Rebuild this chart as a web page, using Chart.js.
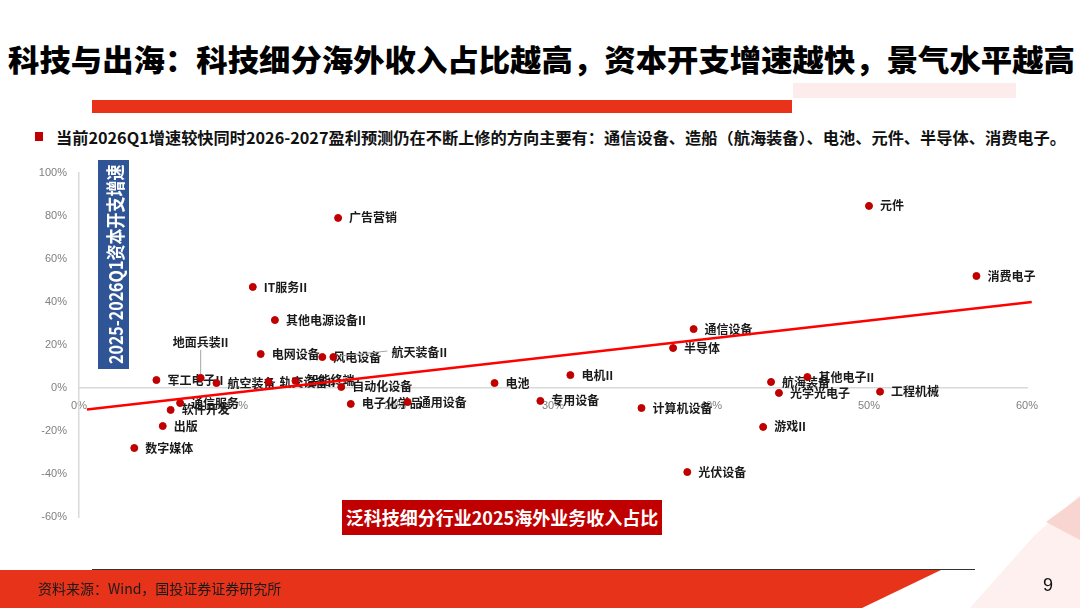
<!DOCTYPE html>
<html><head><meta charset="utf-8">
<script src="https://cdn.jsdelivr.net/npm/chart.js@4.4.1/dist/chart.umd.min.js"></script>
<style>
html,body{margin:0;padding:0;width:1080px;height:608px;overflow:hidden;background:#fff;font-family:"Noto Sans CJK SC","Noto Sans",sans-serif}
#wrap{position:relative;width:1080px;height:608px}
#c{position:absolute;left:0;top:0}
.abs{position:absolute;white-space:nowrap}
.fit{display:inline-block;transform-origin:left center}
#title{left:8px;top:42px;font-size:30px;line-height:32px;font-weight:900;color:#000}
#bar{left:92px;top:100px;width:700px;height:13px;background:#E8321A}
#pink{left:793px;top:83px;width:223px;height:15px;background:#FCEDEC}
#sq{left:35px;top:132px;width:8px;height:9px;background:#C00000}
#bullet{left:56px;top:128px;font-size:16px;line-height:18px;font-weight:700;color:#111}
#ybox{left:98px;top:160px;width:31px;height:209px;background:#2F5597}
#ytxt{left:-36.5px;top:249px;width:300px;height:31px;line-height:31px;text-align:center;color:#fff;font-weight:700;font-size:19px;transform:rotate(-90deg);transform-origin:center center}
#ytxt .fit{transform-origin:center center}
#xbox{left:342px;top:500px;width:320px;height:35px;background:#C00000;color:#fff;font-weight:700;font-size:18px;line-height:35px;text-align:center}
#deco{left:0;top:0;width:1080px;height:608px}
#foot{left:38px;top:579px;font-size:14px;line-height:18px;color:#1a1a1a}
#page{left:1043px;top:575px;font-size:18px;line-height:20px;color:#111;font-family:"Liberation Sans",sans-serif}
</style></head>
<body><div id="wrap">
<svg class="abs" id="deco" width="1080" height="608">
  <polygon points="1035,535 1080,495 1080,608 970,608" fill="#FDF0EE"/>
  <polygon points="1046,522 1080,497 1080,540" fill="#F8D5D0"/>
  <polygon points="0,570 941,570 862,608 0,608" fill="#E6331A"/>
  <line x1="92" y1="569.5" x2="975" y2="569.5" stroke="#333" stroke-width="1"/>
</svg>
<div class="abs" id="pink"></div>
<div class="abs" id="bar"></div>
<div class="abs" id="title"><span class="fit" id="titleT">科技与出海：科技细分海外收入占比越高，资本开支增速越快，景气水平越高</span></div>
<div class="abs" id="sq"></div>
<div class="abs" id="bullet"><span class="fit" id="bulletT">当前2026Q1增速较快同时2026-2027盈利预测仍在不断上修的方向主要有：通信设备、造船（航海装备）、电池、元件、半导体、消费电子。</span></div>
<canvas id="c" width="1080" height="608"></canvas>
<div class="abs" id="ybox"></div>
<div class="abs" id="ytxt"><span class="fit" id="ytxtT">2025-2026Q1资本开支增速</span></div>
<div class="abs" id="xbox">泛科技细分行业2025海外业务收入占比</div>
<div class="abs" id="foot">资料来源：Wind，国投证券证券研究所</div>
<div class="abs" id="page">9</div>
</div>
<script>
const industries = ["广告营销","元件","消费电子","IT服务II","其他电源设备II","地面兵装II","军工电子II","航空装备","轨交设备II","智能终端","电网设备","风电设备","航天装备II","自动化设备","通信服务","软件开发","出版","数字媒体","电子化学品","通用设备","电池","电机II","专用设备","通信设备","半导体","计算机设备","光伏设备","游戏II","航海装备","其他电子II","光学光电子","工程机械"];
const overseasShare = [16.4,50.0,56.8,11.0,12.4,7.7,4.9,8.7,12.0,13.7,11.5,15.4,16.1,16.6,6.4,5.8,5.3,3.5,17.2,20.8,26.3,31.1,29.2,38.9,37.6,35.6,38.5,43.3,43.8,46.1,44.3,50.7];
const capexGrowth = [79.1,84.7,52.1,47.0,31.6,4.7,3.7,2.3,2.8,3.3,15.8,14.4,14.4,0.5,-7.0,-10.2,-17.7,-27.9,-7.4,-6.5,2.3,6.0,-6.0,27.4,18.6,-9.3,-39.1,-18.1,2.8,5.1,-2.3,-1.7];
const trendX = [0.5, 60.3];
const trendY = [-10.0, 40.0];
const xTickValues = [0,10,20,30,40,50,60];
const yTickValues = [-60,-40,-20,0,20,40,60,80,100];

// label placement tweaks (relative to the point, in px)
const customLabels = {
  "地面兵装II": {dx:-28, dy:-35, leader:[[0,-28],[0,-2]]},
  "航天装备II": {dx:58, dy:-5, leader:[[6,-1],[54,-6]]}
};

function fit(id,w){const el=document.getElementById(id);const sw=el.offsetWidth;el.style.transform='scaleX('+(w/sw)+')';}

const labelPlugin = {
  id:'ptLabels',
  beforeDatasetsDraw(chart){
    const ctx=chart.ctx; const meta=chart.getDatasetMeta(0);
    ctx.save();
    ctx.font='bold 12px "Noto Sans CJK SC"';
    ctx.fillStyle='#1a1a1a'; ctx.textBaseline='middle'; ctx.textAlign='left';
    meta.data.forEach((pt,i)=>{
      const name=industries[i]; const c=customLabels[name];
      if(c){
        ctx.save(); ctx.strokeStyle='#A6A6A6'; ctx.lineWidth=1; ctx.beginPath();
        ctx.moveTo(pt.x+c.leader[0][0],pt.y+c.leader[0][1]); ctx.lineTo(pt.x+c.leader[1][0],pt.y+c.leader[1][1]); ctx.stroke(); ctx.restore();
        ctx.fillText(name,pt.x+c.dx,pt.y+c.dy);
      } else {
        ctx.fillText(name,pt.x+11,pt.y);
      }
    });
    ctx.restore();
  }
};

const scatterData = industries.map((n,i)=>({x:overseasShare[i],y:capexGrowth[i]}));
const trendData = trendX.map((x,i)=>({x:x,y:trendY[i]}));

function build(){
new Chart(document.getElementById('c'),{
  type:'scatter',
  data:{datasets:[
    {label:'行业',data:scatterData,backgroundColor:'#C00000',borderColor:'#C00000',pointRadius:3.5,pointHoverRadius:3.5,order:2},
    {type:'line',label:'趋势线',data:trendData,borderColor:'#FF0000',borderWidth:2.5,pointRadius:0,fill:false,clip:false,order:1}
  ]},
  options:{
    responsive:false,animation:false,
    layout:{padding:{left:0,top:173,right:53,bottom:91}},
    plugins:{legend:{display:false},tooltip:{enabled:false}},
    scales:{
      x:{type:'linear',min:0,max:60,position:{y:0},
         afterBuildTicks(s){s.ticks=xTickValues.map(v=>({value:v}));},
         grid:{display:false,drawTicks:false},
         border:{display:true,color:'#D9D9D9',width:1.5},
         ticks:{autoSkip:false,maxRotation:0,padding:11,color:'#808080',font:{family:'Liberation Sans',size:11},callback:v=>v+'%'}},
      y:{type:'linear',min:-60,max:100,
         afterBuildTicks(s){s.ticks=yTickValues.map(v=>({value:v}));},
         afterFit(s){s.width=79;},
         grid:{display:false,drawTicks:false},
         border:{display:true,color:'#D9D9D9',width:1.5},
         ticks:{autoSkip:false,padding:12,color:'#808080',font:{family:'Liberation Sans',size:11},callback:v=>v+'%'}}
    }
  },
  plugins:[labelPlugin]
});
}
build();

function doFit(){fit('titleT',1067);fit('bulletT',1010);fit('ytxtT',200);}
doFit();
document.fonts.ready.then(doFit);
</script>
</body></html>
